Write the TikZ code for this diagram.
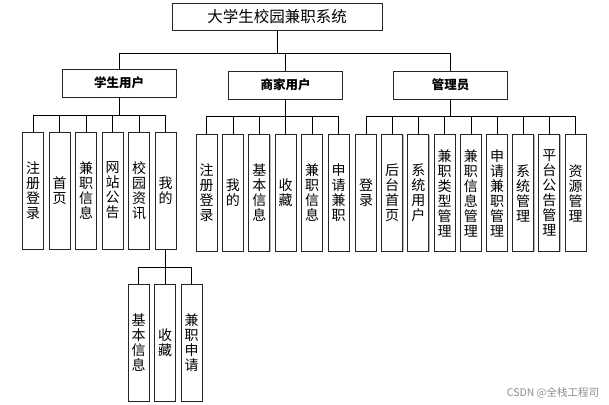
\documentclass[tikz,border=0pt]{standalone}
\usepackage{fontspec}
\setmainfont{Noto Sans CJK SC}
\usepackage{tikz}
\usetikzlibrary{shadows}

\begin{document}
\begin{tikzpicture}[x=1pt,y=-1pt,semithick,
                box/.style={draw=black!85,line width=0.9pt,fill=white,inner sep=0pt,
                    drop shadow={shadow xshift=0.8pt,shadow yshift=-0.8pt,opacity=0.45,fill=black!60}},
                system/.style={box,minimum width=210pt,minimum height=27pt,font=\fontsize{15.5}{16}\selectfont},
                role/.style={box,minimum width=114pt,minimum height=28pt,font=\bfseries\fontsize{12.5}{14}\selectfont},
                leaf/.style={box,minimum width=21pt,minimum height=117pt,text width=16pt,align=center,
                    font=\fontsize{14}{15}\selectfont}]
        \useasboundingbox (0,0) rectangle (609,404);

        \node[system] (root) at (277,16.5)  {大学生校园兼职系统};
        \node[role]   (stu)  at (119,83)    {学生用户};
        \node[role]   (biz)  at (285.5,85)  {商家用户};
        \node[role]   (adm)  at (450.5,85)  {管理员};

        \foreach \r in {stu,biz,adm}
            \draw (root.south) -- ++(0,23) -| (\r.north);

        % student
        \foreach \i/\x/\t in {1/33/{注\\册\\登\\录},2/59.5/{首\\页},3/86/{兼\\职\\信\\息},
                              4/112.5/{网\\站\\公\\告},5/139/{校\\园\\资\\讯},6/165.5/{我\\的}}{
            \node[leaf] (s\i) at (\x,190.5) {\t};
            \draw (stu.south) -- ++(0,18) -| (s\i.north);
        }

        % merchant
        \foreach \i/\x/\t in {1/206.5/{注\\册\\登\\录},2/232.9/{我\\的},3/259.3/{基\\本\\信\\息},
                              4/285.7/{收\\藏},5/312.1/{兼\\职\\信\\息},6/338.5/{申\\请\\兼\\职}}{
            \node[leaf] (b\i) at (\x,193) {\t};
            \draw (biz.south) -- ++(0,16.5) -| (b\i.north);
        }

        % admin
        \foreach \i/\x/\t in {1/366/{登\\录},2/392.2/{后\\台\\首\\页},3/418.4/{系\\统\\用\\户},
                              4/444.6/{兼\\职\\类\\型\\管\\理},5/470.8/{兼\\职\\信\\息\\管\\理},
                              6/497/{申\\请\\兼\\职\\管\\理},7/523.2/{系\\统\\管\\理},
                              8/549.4/{平\\台\\公\\告\\管\\理},9/575.6/{资\\源\\管\\理}}{
            \node[leaf] (a\i) at (\x,193) {\t};
            \draw (adm.south) -- ++(0,16.5) -| (a\i.north);
        }

        % my page
        \foreach \i/\x/\t in {1/138.5/{基\\本\\信\\息},2/165/{收\\藏},3/191.5/{兼\\职\\申\\请}}{
            \node[leaf] (m\i) at (\x,342.5) {\t};
            \draw (s6.south) -- ++(0,18) -| (m\i.north);
        }

        \node[text=black!45,font=\fontsize{10.5}{12}\selectfont] (mark) at (553,393) {CSDN @全栈工程司};
\end{tikzpicture}
\end{document}
